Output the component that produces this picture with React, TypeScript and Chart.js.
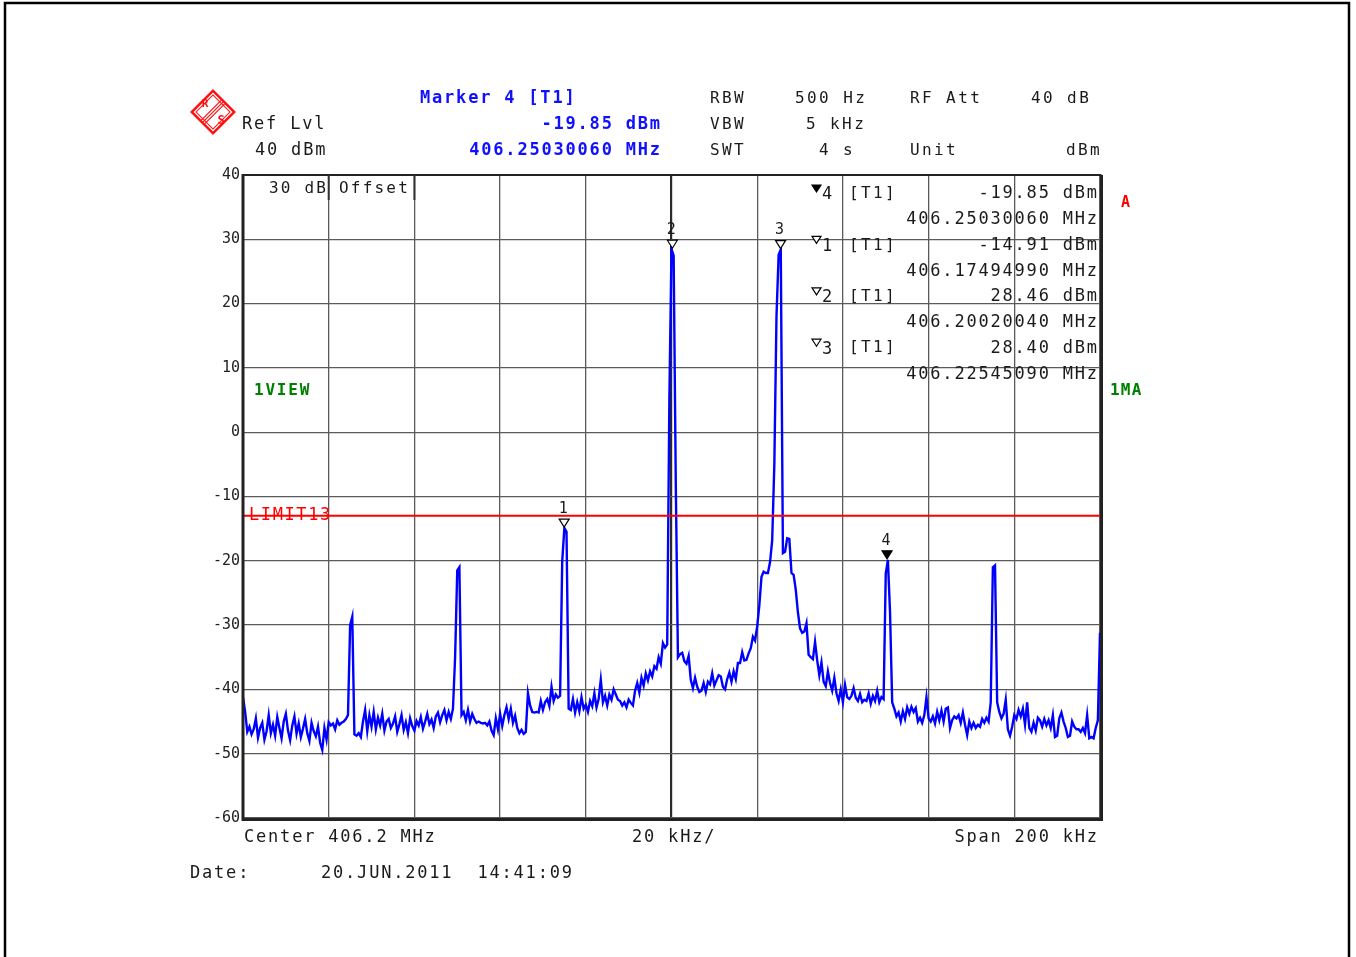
import React, { useEffect, useRef } from 'react';
import { Chart, registerables } from 'chart.js';

Chart.register(...registerables);

// ---- Sweep settings ----
const CENTER_MHZ = 406.2;
const SPAN_KHZ = 200;
const TRACE_STEP_KHZ = 0.5; // 401 sweep points over the span
const LIMIT_DBM = -13;
const Y_MIN = -60;
const Y_MAX = 40;

// ---- Trace (dBm), left to right ----
const floorA = [-41.2, -43.5, -46.6, -45.8, -47.0, -46.2, -44.5, -47.5, -46.0, -45.2,
  -47.8, -46.5, -44.0, -46.8, -45.5, -47.2, -44.3, -46.0, -47.6, -45.0,
  -43.8, -46.4, -47.9, -45.6, -44.2, -46.9, -45.3, -47.4, -46.1, -44.6,
  -46.8, -48.0, -45.2, -46.5, -47.3, -45.8, -48.3, -49.4, -46.0, -47.8,
  -45.1, -45.6, -45.3, -46.2, -44.8, -45.5, -45.2, -45.0, -44.6];
const spurA = [-44.0, -30.0, -28.7, -47.0];
const floorB = [-47.2, -46.8, -47.4, -45.0, -43.2, -46.5, -44.0, -45.8, -43.5, -46.2,
  -44.4, -45.6, -43.8, -46.4, -45.0, -44.6, -46.0, -45.3, -44.2, -46.6,
  -45.4, -44.0, -46.3, -45.1, -46.8, -44.5, -45.7, -46.4, -44.9, -45.6,
  -44.3, -46.1, -45.0, -43.8, -45.4, -44.7, -46.0, -44.2, -43.6, -45.1,
  -44.0, -43.2, -44.8, -43.5, -44.6, -43.0];
const spurB = [-35.0, -21.5, -21.0, -44.0];
const floorC = [-43.5, -44.8, -43.2, -45.0, -43.8, -44.6, -45.2, -45.0, -45.2, -45.3,
  -45.2, -45.6, -45.0, -46.4, -47.1, -44.5, -46.2, -43.8, -45.7, -44.0,
  -42.8, -44.6, -43.0, -45.2, -44.1, -46.0, -46.8, -46.3, -46.9, -46.6,
  -40.6, -42.5, -43.5, -43.6, -43.5, -43.6, -41.8, -43.2, -42.0, -41.5,
  -42.6, -39.6, -41.8, -40.8, -41.3];
const peak1 = [-41.0, -20.0, -14.91, -15.5, -43.0];
const floorD = [-43.2, -41.5, -43.6, -42.0, -43.4, -41.2, -43.0, -42.4, -43.5, -41.8,
  -42.6, -40.6, -42.8, -41.5, -38.5, -42.0, -41.0, -42.5, -40.8, -41.6,
  -40.0, -40.8, -41.6, -41.8, -42.5, -42.0, -42.8, -41.6, -42.1, -42.5,
  -40.2, -39.0, -40.5, -38.2, -39.4, -37.5, -38.6, -37.2, -38.0, -36.4,
  -36.8, -35.0, -36.0, -32.8, -33.5];
const peak2 = [-33.0, 5.0, 28.46, 27.5, -8.0, -35.0];
const skirtE = [-34.5, -34.3, -35.6, -36.0, -34.8, -38.5, -39.8, -38.2, -39.6, -40.4,
  -40.2, -39.0, -40.4, -38.8, -39.2, -37.5, -39.4, -38.6, -37.8, -38.0,
  -39.6, -40.0, -38.4, -37.4, -38.8, -37.2, -38.4, -35.9, -35.9, -34.2,
  -35.5, -35.4, -34.4, -33.6, -31.8, -32.4, -30.2, -26.9, -22.5, -21.7,
  -21.9, -21.9, -20.2];
const peak3 = [-16.8, -5.0, 18.0, 27.6, 28.4, -18.8];
const skirtF = [-18.6, -16.5, -16.6, -21.9, -22.2, -24.5, -28.0, -30.5, -31.2, -31.0,
  -29.7, -34.6, -35.0, -35.3, -32.6, -35.5, -37.8, -35.8, -38.8, -39.5,
  -37.2, -39.0, -40.2, -38.2, -40.6, -41.8, -40.0, -42.0, -39.3, -41.2,
  -41.5, -41.0, -39.8, -41.3, -41.8, -40.7, -42.0, -41.6, -41.8, -40.6,
  -42.2, -41.0, -41.8, -40.2, -42.0, -41.2, -41.5];
const peak4 = [-22.0, -19.85, -28.0, -42.0];
const floorG = [-43.0, -44.2, -43.6, -45.0, -43.4, -44.6, -42.8, -43.8, -42.7, -43.5,
  -42.9, -45.0, -44.4, -45.2, -44.0, -41.2, -44.5, -45.0, -44.2, -45.3,
  -43.5, -44.8, -43.3, -45.0, -43.0, -42.8, -46.0, -44.8, -44.2, -44.5,
  -44.0, -45.2, -43.6, -45.5, -47.1, -45.0, -46.0, -45.2, -46.0, -45.5,
  -45.8, -44.6, -45.2, -44.4, -45.0];
const spurE = [-42.0, -21.0, -20.7, -42.0];
const floorH = [-43.5, -44.5, -43.8, -41.6, -46.2, -47.2, -45.8, -44.0, -44.6, -43.2,
  -44.2, -43.0, -45.5, -42.0, -46.0, -46.6, -45.2, -46.4, -44.4, -44.8,
  -45.8, -44.6, -45.6, -44.8, -46.0, -44.0, -47.4, -47.2, -44.5, -43.6,
  -45.0, -46.0, -47.4, -47.2, -45.0, -45.8, -46.2, -46.2, -46.6, -46.0,
  -46.8, -44.0, -47.6, -47.4, -47.6, -46.0, -44.8];
const edgeR = [-31.2];

const traceDbm = [
  ...floorA, ...spurA, ...floorB, ...spurB, ...floorC, ...peak1, ...floorD, ...peak2,
  ...skirtE, ...peak3, ...skirtF, ...peak4, ...floorG, ...spurE, ...floorH, ...edgeR,
];

// ---- Markers ----
const markerIds = ['1', '2', '3', '4'];
const markerFreqMHz = [406.1749499, 406.2002004, 406.2254509, 406.2503006];
const markerDbm = [-14.91, 28.46, 28.40, -19.85];
const activeMarker = '4';

// marker table order as on screen
const tableOrder = ['4', '1', '2', '3'];

const FONT = '"DejaVu Sans Mono", "Liberation Mono", monospace';

function txt(ctx: CanvasRenderingContext2D, s: string, x: number, y: number, o: any = {}) {
  const size = o.size ?? 17;
  const sp = o.spacing ?? 1.8;
  ctx.save();
  ctx.font = `${o.bold ? 'bold ' : ''}${size}px ${FONT}`;
  ctx.fillStyle = o.color ?? '#1a1a1a';
  ctx.textAlign = o.align ?? 'left';
  ctx.textBaseline = 'middle';
  (ctx as any).letterSpacing = sp + 'px';
  ctx.fillText(s, o.align === 'right' ? x + sp : x, y + 1);
  ctx.restore();
}

function downTri(ctx: CanvasRenderingContext2D, cx: number, tipY: number, w: number, h: number, filled: boolean) {
  ctx.save();
  ctx.beginPath();
  ctx.moveTo(cx - w / 2, tipY - h);
  ctx.lineTo(cx + w / 2, tipY - h);
  ctx.lineTo(cx, tipY);
  ctx.closePath();
  ctx.fillStyle = filled ? '#000' : '#fff';
  ctx.fill();
  ctx.strokeStyle = '#000';
  ctx.lineWidth = 1.2;
  ctx.stroke();
  ctx.restore();
}

const decorPlugin = {
  id: 'rsDecor',
  afterDraw(chart: any) {
    const ctx: CanvasRenderingContext2D = chart.ctx;
    const xs = chart.scales.x;
    const ys = chart.scales.y;
    const { left, top, right, bottom } = chart.chartArea;

    // outer frame
    ctx.save();
    ctx.strokeStyle = '#000';
    ctx.lineWidth = 2.5;
    ctx.strokeRect(5, 3, 1344, 970);
    ctx.restore();

    // plot frame
    ctx.save();
    ctx.strokeStyle = '#222';
    ctx.lineWidth = 3;
    ctx.beginPath();
    ctx.moveTo(left, top - 1); ctx.lineTo(left, bottom + 1.5);
    ctx.lineTo(right + 1.5, bottom + 1.5); ctx.lineTo(right + 1.5, top);
    ctx.stroke();
    ctx.lineWidth = 1.8;
    ctx.beginPath();
    ctx.moveTo(left, top); ctx.lineTo(right + 1.5, top);
    ctx.stroke();
    // offset box dividers
    ctx.lineWidth = 2;
    ctx.strokeStyle = '#333';
    ctx.beginPath();
    ctx.moveTo(xs.getPixelForValue(-80), top); ctx.lineTo(xs.getPixelForValue(-80), top + 25);
    ctx.moveTo(xs.getPixelForValue(-60), top); ctx.lineTo(xs.getPixelForValue(-60), top + 25);
    ctx.stroke();
    ctx.restore();

    // logo
    ctx.save();
    ctx.translate(213, 112);
    ctx.rotate(Math.PI / 4);
    ctx.strokeStyle = '#ff1010';
    ctx.lineWidth = 2.5;
    ctx.strokeRect(-15, -15, 30, 30);
    ctx.lineWidth = 1;
    ctx.strokeRect(-12, -12, 24, 24);
    ctx.lineWidth = 1.2;
    ctx.beginPath();
    for (const dx of [-2.5, 0, 2.5]) {
      ctx.moveTo(dx, -14); ctx.lineTo(dx, 14);
    }
    ctx.stroke();
    ctx.restore();
    txt(ctx, 'R', 205, 103, { size: 11, bold: true, color: '#ff1010', spacing: 0, align: 'center' });
    txt(ctx, 'S', 221, 120, { size: 12, bold: true, color: '#ff1010', spacing: 0, align: 'center' });

    // header
    txt(ctx, 'Ref Lvl', 242, 124);
    txt(ctx, '40 dBm', 255, 150);
    const blue = '#1010ff';
    txt(ctx, `Marker ${activeMarker} [T1]`, 420, 98, { color: blue, bold: true });
    const ai = markerIds.indexOf(activeMarker);
    txt(ctx, `${markerDbm[ai].toFixed(2)} dBm`, 660, 124, { color: blue, bold: true, align: 'right' });
    txt(ctx, `${markerFreqMHz[ai].toFixed(8)} MHz`, 660, 150, { color: blue, bold: true, align: 'right' });
    const h = { size: 16, spacing: 2.4 };
    txt(ctx, 'RBW', 710, 98, h);
    txt(ctx, '500 Hz', 795, 98, h);
    txt(ctx, 'RF Att', 910, 98, h);
    txt(ctx, '40 dB', 1031, 98, h);
    txt(ctx, 'VBW', 710, 124, h);
    txt(ctx, '5 kHz', 806, 124, h);
    txt(ctx, 'SWT', 710, 150, h);
    txt(ctx, '4 s', 819, 150, h);
    txt(ctx, 'Unit', 910, 150, h);
    txt(ctx, 'dBm', 1066, 150, h);

    // inside plot
    txt(ctx, '30 dB', 326, 188, { size: 16, spacing: 2.2, align: 'right' });
    txt(ctx, 'Offset', 339, 188, { size: 16, spacing: 2.2 });
    txt(ctx, '1VIEW', 254, 390, { color: '#008000', bold: true, size: 16, spacing: 1.8 });
    txt(ctx, 'A', 1121, 202, { color: '#ff0000', bold: true, size: 15, spacing: 0 });
    txt(ctx, '1MA', 1110, 390, { color: '#008000', bold: true, size: 16, spacing: 1.2 });
    const ly = ys.getPixelForValue(LIMIT_DBM);
    txt(ctx, 'LIMIT13', 249, ly - 1, { color: '#ff0000', size: 17, spacing: 1.6 });

    // marker table
    let rowY = 193;
    for (const id of tableOrder) {
      const k = markerIds.indexOf(id);
      downTri(ctx, 816.5, rowY - 1, 9, 7, id === activeMarker);
      txt(ctx, id, 822, rowY + 1, { size: 17, spacing: 0 });
      txt(ctx, '[T1]', 849, rowY, { size: 16, spacing: 2.4 });
      txt(ctx, `${markerDbm[k].toFixed(2)} dBm`, 1097, rowY, { align: 'right' });
      txt(ctx, `${markerFreqMHz[k].toFixed(8)} MHz`, 1097, rowY + 26, { align: 'right' });
      rowY += 51.4;
    }

    // markers on trace
    for (let k = 0; k < markerIds.length; k++) {
      const px = xs.getPixelForValue((markerFreqMHz[k] - CENTER_MHZ) * 1000);
      const py = ys.getPixelForValue(markerDbm[k]);
      downTri(ctx, px, py - 1, 10, 8, markerIds[k] === activeMarker);
      txt(ctx, markerIds[k], px - 1, py - 20, { size: 15, spacing: 0, align: 'center' });
    }

    // footer
    txt(ctx, `Center ${CENTER_MHZ.toFixed(1)} MHz`, 244, 837);
    txt(ctx, `${SPAN_KHZ / 10} kHz/`, 632, 837);
    txt(ctx, `Span ${SPAN_KHZ} kHz`, 1097, 837, { align: 'right' });
    txt(ctx, 'Date:', 190, 873);
    txt(ctx, '20.JUN.2011  14:41:09', 321, 873);
  },
};

export default function App() {
  const ref = useRef<HTMLCanvasElement | null>(null);

  useEffect(() => {
    document.body.style.margin = '0';
    const canvas = ref.current;
    if (!canvas) return;
    const tracePts = traceDbm.map((v, i) => ({ x: -SPAN_KHZ / 2 + i * TRACE_STEP_KHZ, y: v }));
    const chart = new Chart(canvas, {
      type: 'line',
      data: {
        datasets: [
          {
            label: 'Limit',
            data: [{ x: -SPAN_KHZ / 2, y: LIMIT_DBM }, { x: SPAN_KHZ / 2, y: LIMIT_DBM }],
            borderColor: '#ff0000',
            borderWidth: 2,
            pointRadius: 0,
            order: 0,
          },
          {
            label: 'Trace 1',
            data: tracePts,
            borderColor: '#0000ff',
            borderWidth: 2.4,
            pointRadius: 0,
            tension: 0,
            order: 1,
          },
        ],
      },
      options: {
        responsive: false,
        devicePixelRatio: 1,
        animation: false,
        events: [],
        layout: { autoPadding: false, padding: { left: 200, right: 256, top: 175, bottom: 139 } },
        plugins: { legend: { display: false }, tooltip: { enabled: false } },
        scales: {
          x: {
            type: 'linear',
            min: -SPAN_KHZ / 2,
            max: SPAN_KHZ / 2,
            ticks: { display: false, stepSize: SPAN_KHZ / 10 },
            grid: {
              drawTicks: false,
              color: (c: any) => (c.tick && c.tick.value === 0 ? '#2a2a2a' : '#5a5a5a'),
              lineWidth: (c: any) => (c.tick && c.tick.value === 0 ? 2.2 : 1.3),
            },
            border: { display: false },
            afterFit: (s: any) => { s.height = 0; s.paddingLeft = 0; s.paddingRight = 0; },
          },
          y: {
            type: 'linear',
            min: Y_MIN,
            max: Y_MAX,
            ticks: {
              stepSize: 10,
              padding: 3,
              color: '#222',
              font: { family: FONT, size: 15 },
            },
            grid: { drawTicks: false, color: '#5a5a5a', lineWidth: 1.3 },
            border: { display: false },
            afterFit: (s: any) => { s.width = 43; s.paddingTop = 0; s.paddingBottom = 0; },
          },
        },
      },
      plugins: [decorPlugin],
    } as any);
    return () => chart.destroy();
  }, []);

  return (
    <div style={{ position: 'absolute', left: 0, top: 0, width: 1356, height: 957, background: '#fff' }}>
      <canvas ref={ref} width={1356} height={957} />
    </div>
  );
}
